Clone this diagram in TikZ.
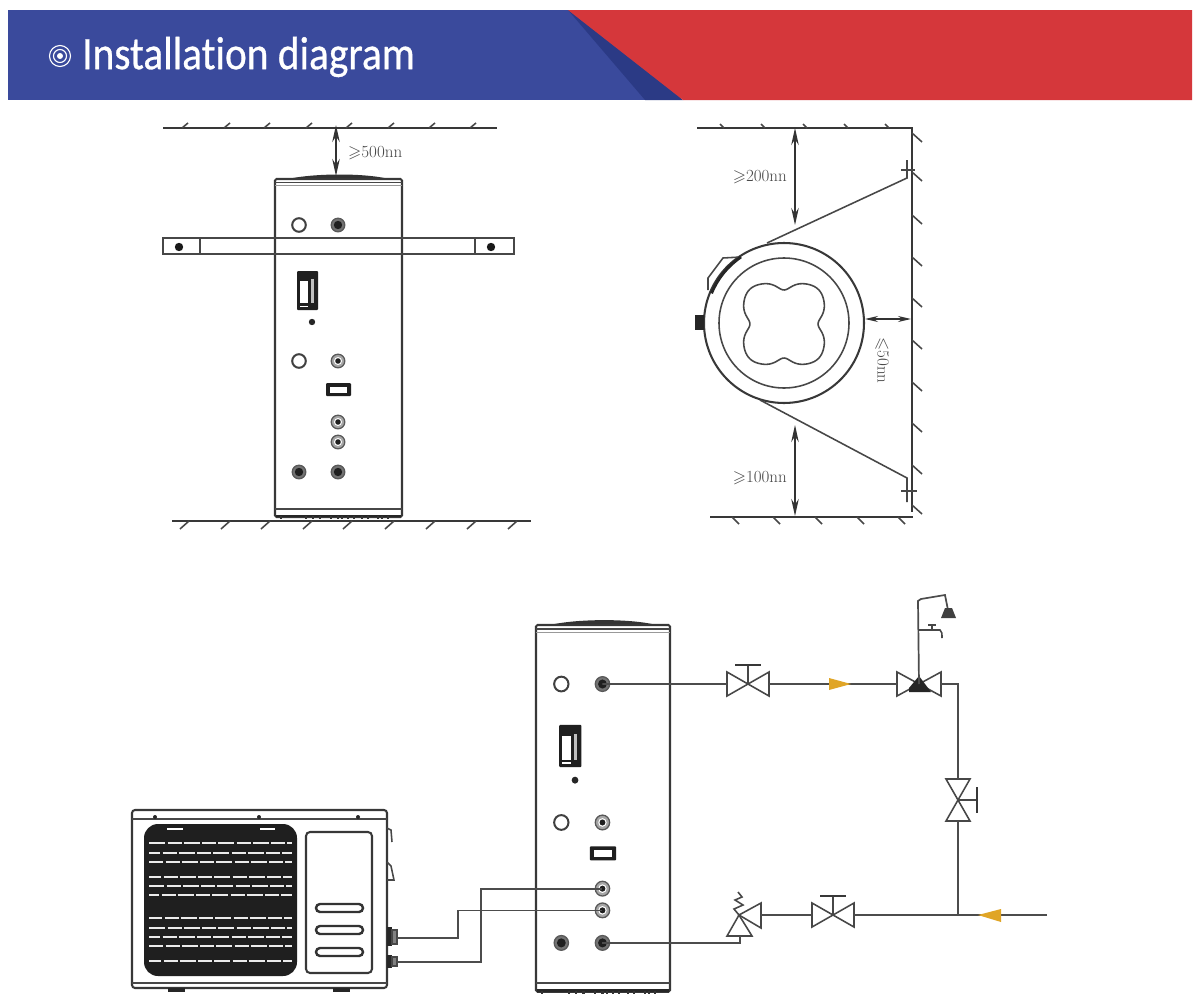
\documentclass[tikz,border=0pt]{standalone}
\usepackage{amsmath,amssymb}
\usepackage{fontspec}
\usepackage{xcolor}
\newfontfamily\titlefont[Ligatures=NoCommon]{Carlito}
\usetikzlibrary{calc,arrows.meta}
\definecolor{headblue}{HTML}{3A4A9C}
\definecolor{headdark}{HTML}{2B3A85}
\definecolor{headred}{HTML}{D5373B}
\definecolor{flowyellow}{HTML}{E0A526}
\tikzset{
  declare function={lobe(\t)=41/pow(pow(cos(\t)*cos(\t),2)+pow(sin(\t)*sin(\t),2),0.25)-7*pow(cos(2*\t)*cos(2*\t),4);},
  ink/.style={line width=0.72mm, black!78},
  thin ink/.style={line width=0.55mm, black!72},
  pipe/.style={line width=0.6mm, black!70},
  dim/.style={line width=0.5mm, black!80, {Stealth[length=17pt,width=7.5pt]}-{Stealth[length=17pt,width=7.5pt]}},
  dimtext/.style={color=black!72, font=\fontsize{17}{18}\selectfont},
  flowtip/.style={fill=flowyellow},
  slit/.style={line width=0.75mm, white!92!black, dash pattern=on 16pt off 2.5pt on 14pt off 2pt},
  portshell/.style={fill=black!55, draw=black!65, line width=0.45mm},
  portcore/.style={fill=black!88},
  pics/gatevalve/.style={code={
    \draw[thin ink, fill=white] (-21,-12) -- (21,12) -- (21,-12) -- (-21,12) -- cycle;
    \draw[thin ink] (0,0) -- (0,-19);
    \draw[ink] (-13,-19) -- (13,-19);
    \coordinate (-w) at (-21,0);
    \coordinate (-e) at (21,0);
  }},
  pics/tankfront/.style={code={
    % body
    \fill[white] (0,0) rectangle (127,338);
    \fill[black!80] (13,0) .. controls (40,-6) and (90,-6) .. (114,0) -- cycle;
    \draw[ink, rounded corners=1.5pt] (0,0) rectangle (127,338);
    \draw[thin ink] (0,3.5) -- (127,3.5);
    \draw[black!40, line width=0.3mm] (0,6.5) -- (127,6.5);
    \draw[thin ink] (0,330) -- (127,330);
    \draw[line width=1mm, black!85] (1,337) -- (126,337);
    \foreach \footx in {5,30,37,44,55,62,66,72,78,86,92,102,106,112}
      \fill[black!80] (\footx,337) rectangle ++(2,3);
    % open sockets
    \draw[line width=0.7mm, black!75, fill=white] (24,#1) circle (6.8);
    \draw[line width=0.7mm, black!75, fill=white] (24,182) circle (6.8);
    % threaded ports
    \foreach \py in {#1,293} {
      \filldraw[portshell] (63,\py) circle (6.8);
      \fill[portcore] (63,\py) circle (4.2);
    }
    \filldraw[portshell] (24,293) circle (6.8);
    \fill[portcore] (24,293) circle (4.2);
    \foreach \py in {182,243,263} {
      \filldraw[portshell, fill=black!35] (63,\py) circle (6.8);
      \fill[white] (63,\py) circle (4);
      \fill[portcore] (63,\py) circle (2.8);
    }
    \coordinate (-hot) at (63,#1);
    \coordinate (-coila) at (63,243);
    \coordinate (-coilb) at (63,263);
    \coordinate (-cold) at (63,293);
    % control box
    \fill[black!88, rounded corners=1pt] (22,92) rectangle (43,131);
    \fill[white] (25,102) rectangle (33,124);
    \fill[black!25] (36,100) rectangle (39,124);
    \fill[white] (25,126.5) rectangle (33,128);
    \fill[black!85] (37,143) circle (3.2);
    % lower hatch
    \fill[black!88, rounded corners=1pt] (51,204) rectangle (76,217);
    \fill[white] (55,207.5) rectangle (72,213.5);
  }}
}
\begin{document}
\begin{tikzpicture}[x=1pt,y=-1pt]
  \useasboundingbox (0,0) rectangle (1200,1001);
  \fill[white] (0,0) rectangle (1200,1001);

  % banner
  \fill[headblue] (8,10) rectangle (680,100);
  \fill[headdark] (568,10) -- (683,100) -- (645,100) -- cycle;
  \fill[headred] (568,10) -- (1192,10) -- (1192,100) -- (683,100) -- cycle;
  \draw[white, line width=0.4mm] (60,56) circle (10.5);
  \draw[white, line width=0.4mm] (60,56) circle (6.5);
  \fill[white] (60,56) circle (3);
  \node[anchor=west, inner sep=0pt, text=white, xscale=0.89, font=\titlefont\addfontfeature{FakeBold=0.7}\fontsize{46.5}{50}\selectfont] (title) at (82,57) {Installation diagram};

  % front view walls
  \draw[ink] (163,128) -- (497,128);
  \foreach \tickx in {185,227,267,309,349,391,432,473}
    \draw[thin ink] (\tickx-3,128) -- (\tickx+3,123);
  \draw[ink] (172,521) -- (531,521);
  \foreach \tickx in {186,227,267,309,349,391,432,473,514}
    \draw[thin ink] (\tickx+3,521) -- (\tickx-6,529);

  % front view tank
  \pic (tanka) at (275,179) {tankfront={46}};
  \draw[thin ink] (163,238) rectangle (514,254);
  \draw[thin ink] (200,238) -- (200,254);
  \draw[thin ink] (475,238) -- (475,254);
  \fill[black!90] (179,247) circle (4.2);
  \fill[black!90] (491,247) circle (4.2);
  \coordinate (gapa) at (336,125);
  \coordinate (gapb) at (336,176);
  \draw[dim] (gapa) -- (gapb);
  \node[dimtext, anchor=west, inner sep=0pt] (clearanceup) at (348,153) {$\geqslant$500nn};

  % plan view walls
  \draw[ink] (697,128) -- (912,128) -- (912,512);
  \draw[ink] (710,517) -- (913,517);
  \foreach \tickx in {722,763,805,846,887}
    \draw[thin ink] (\tickx-2,124) -- (\tickx+2,128);
  \foreach \ticky in {133,172,215,257,298,340,382,423,465,505}
    \draw[thin ink] (912,\ticky) -- (922,\ticky+9);
  \foreach \tickx in {732,773,815,857,898}
    \draw[thin ink] (\tickx,517) -- (\tickx+7,524);

  % plan view tank
  \coordinate (mid) at (784,323);
  \draw[ink] (mid) circle (80);
  \draw[thin ink] (mid) circle (65);
  \draw[thin ink, smooth cycle, samples=121, domain=0:357] plot ({784+lobe(\x)*cos(\x)},{324+lobe(\x)*sin(\x)});
  \draw[thin ink] (741,257) -- (723,258) -- (708,278) -- (708,290);
  \draw[line width=1mm, black!85] (741,257) arc[start angle=-124, end angle=-158, radius=80];
  \fill[black!85] (695,315) rectangle (704,330);
  \draw[thin ink] (767,243) -- (907,178) -- (907,160);
  \draw[thin ink] (901,170) -- (915,170);
  \draw[thin ink] (760,400) -- (907,478) -- (907,502);
  \draw[thin ink] (901,491) -- (917,491);
  \coordinate (upa) at (795,128);
  \coordinate (upb) at (795,225);
  \draw[dim] (upa) -- (upb);
  \coordinate (downa) at (795,425);
  \coordinate (downb) at (795,516);
  \draw[dim] (downa) -- (downb);
  \coordinate (sidea) at (865,319);
  \coordinate (sideb) at (911,319);
  \draw[dim, {Stealth[length=13pt,width=6pt]}-{Stealth[length=13pt,width=6pt]}] (sidea) -- (sideb);
  \node[dimtext, anchor=east, inner sep=0pt] (clearancetop) at (787,177) {$\geqslant$200nn};
  \node[dimtext, anchor=east, inner sep=0pt] (clearancelow) at (787,478) {$\geqslant$100nn};
  \node[dimtext, rotate=-90, anchor=west, inner sep=0pt] (clearanceside) at (882,337) {$\leqslant$50nn};

  % outdoor unit
  \draw[ink, fill=white, rounded corners=3pt] (132,810) rectangle (387,988);
  \draw[thin ink] (132,819) -- (387,819);
  \draw[thin ink] (132,983) -- (387,983);
  \foreach \boltx in {155,259,358}
    \fill[black!85] (\boltx,817) circle (2);
  \fill[black!88, rounded corners=14pt] (144,824) rectangle (297,976);
  \draw[line width=0.7mm, white] (167,829) -- (183,829);
  \draw[line width=0.7mm, white] (260,829) -- (275,829);
  \foreach \rowy/\rowshift in {843/0,853/5,862/2,877/4,886/1,895/6,918/3,928/0,937/5,946/2,961/4}
    \draw[slit, dash phase=\rowshift pt] (149,\rowy) -- (292,\rowy);
  \draw[ink, fill=white, rounded corners=4pt] (306,832) rectangle (372,973);
  \foreach \sloty in {908,930,952}
    \draw[line width=0.85mm, black!80, rounded corners=4pt] (316,\sloty-4) rectangle (363,\sloty+4);
  \fill[black!85] (168,988) rectangle (185,992);
  \fill[black!85] (333,988) rectangle (350,992);
  \draw[thin ink] (387,828) -- (391,830) -- (392,842);
  \draw[thin ink] (387,862) -- (391,866) -- (394,880) -- (387,880);
  \fill[black!85] (387,927) rectangle (392,946);
  \fill[black!85] (387,955) rectangle (392,968);
  \filldraw[thin ink, fill=black!50] (392,930) rectangle (397,944);
  \filldraw[thin ink, fill=black!50] (392,957) rectangle (397,966);
  \coordinate (unita) at (397,938);
  \coordinate (unitb) at (397,962);

  % system tank
  \pic[xscale=1.055,yscale=1.085] (tankb) at (536,625) {tankfront={54.4}};

  % valves
  \pic (hotvalve) at (748,684) {gatevalve};
  \pic[rotate=-90] (riser) at (958,800) {gatevalve};
  \pic (inletvalve) at (833,915) {gatevalve};

  % mixing valve with shower
  \coordinate (mixw) at (897,684);
  \coordinate (mixe) at (941,684);
  \coordinate (mixc) at (919,684);
  \draw[thin ink, fill=white] (mixw) ++(0,-12) -- (941,696) -- (941,672) -- (897,696) -- cycle;
  \fill[black!85] (909,688) -- (919,676) -- (931,692) -- (909,692) -- cycle;
  \draw[pipe] (mixc) -- (918,601) -- (921,599) -- (945,595) -- (948,610);
  \fill[black!75] (945,608) -- (952,608) -- (956,618) -- (941,618) -- cycle;
  \draw[thin ink] (918,630) -- (940,630) .. controls (942,631) and (942,634) .. (942,638);
  \draw[thin ink] (932,630) -- (932,625);
  \draw[thin ink] (928,625) -- (936,625);

  % safety valve
  \coordinate (safec) at (739,915);
  \coordinate (safee) at (761,915);
  \coordinate (safes) at (740,936);
  \draw[thin ink, fill=white] (safec) -- (761,903) -- (761,928) -- cycle;
  \draw[thin ink, fill=white] (safec) -- (727,936) -- (752,936) -- cycle;
  \draw[thin ink] (safec) -- (734,909) -- (743,905) -- (735,900) -- (742,897) -- (738,892);

  % water side pipes
  \coordinate (inlet) at (1047,915);
  \coordinate (tee) at (958,915);
  \coordinate (corner) at (958,684);
  \coordinate (benda) at (458,0);
  \coordinate (bendb) at (481,0);
  \draw[pipe] (tankb-hot) -- (hotvalve-w);
  \draw[pipe] (hotvalve-e) -- (mixw);
  \draw[pipe] (mixe) -- (corner) -- (riser-w);
  \draw[pipe] (riser-e) -- (tee);
  \draw[pipe] (inlet) -- (inletvalve-e);
  \draw[pipe] (inletvalve-w) -- (safee);
  \draw[pipe] (safes) -- (safes |- tankb-cold) -- (tankb-cold);
  \fill[flowtip] (829,678) -- (851,684) -- (829,690) -- cycle;
  \fill[flowtip] (1001,909) -- (978,915) -- (1001,922) -- cycle;

  % refrigerant pipes
  \draw[pipe] (unita) -- (benda |- unita) -- (benda |- tankb-coilb) -- (tankb-coilb);
  \draw[pipe] (unitb) -- (bendb |- unitb) -- (bendb |- tankb-coila) -- (tankb-coila);
\end{tikzpicture}
\end{document}
